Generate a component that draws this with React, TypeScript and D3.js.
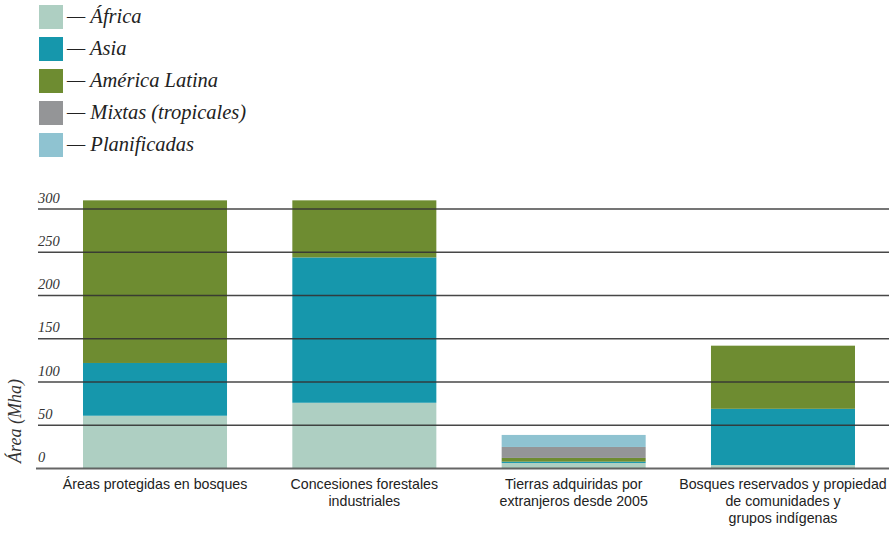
import React from "react";
import * as d3 from "d3";

const categories = [
  ["Áreas protegidas en bosques"],
  ["Concesiones forestales", "industriales"],
  ["Tierras adquiridas por", "extranjeros desde 2005"],
  ["Bosques reservados y propiedad", "de comunidades y", "grupos indígenas"],
];
const seriesNames = ["África", "Asia", "América Latina", "Mixtas (tropicales)", "Planificadas"];
const africa = [61, 76, 6.4, 4];
const asia = [61, 168, 1.5, 65];
const americaLatina = [188, 66, 4.3, 73];
const mixtas = [0, 0, 12.7, 0];
const planificadas = [0, 0, 13.9, 0];
const yTicks = [0, 50, 100, 150, 200, 250, 300];
const colors = ["#aecfc2", "#1697ac", "#6e8c31", "#949597", "#8fc3d1"];

const W = 889;
const H = 535;

export default function App() {
  const seriesValues = [africa, asia, americaLatina, mixtas, planificadas];
  const rows = categories.map((c, i) => {
    const r: any = { key: i };
    seriesNames.forEach((s, j) => (r[s] = seriesValues[j][i]));
    return r;
  });
  const stack = d3.stack<any>().keys(seriesNames)(rows);
  const x = d3
    .scaleBand<number>()
    .domain(categories.map((_, i) => i))
    .range([83, 855])
    .paddingInner(0.312)
    .paddingOuter(0);
  const y = d3.scaleLinear().domain([0, 300]).range([468.5, 209]);
  const serif = "'Liberation Serif', 'DejaVu Serif', serif";
  const narrow = "'Liberation Sans Narrow', 'Liberation Sans', Arial, sans-serif";

  return (
    <svg
      width={W}
      height={H}
      style={{ position: "absolute", left: 0, top: 0, background: "#fff" }}
    >
      {/* legend */}
      {seriesNames.map((s, i) => (
        <g key={s} transform={`translate(39, ${5 + i * 32})`}>
          <rect width={24} height={24} fill={colors[i]} />
          <text
            x={28}
            y={17.5}
            fontFamily={serif}
            fontStyle="italic"
            fontSize={20.5}
            fill="#222"
          >
            {"— " + s}
          </text>
        </g>
      ))}

      {/* bars */}
      {stack.map((layer, si) =>
        layer.map((d, ci) =>
          d[1] - d[0] > 0 ? (
            <rect
              key={`${si}-${ci}`}
              x={x(ci)}
              width={x.bandwidth()}
              y={y(d[1])}
              height={y(d[0]) - y(d[1])}
              fill={colors[si]}
            />
          ) : null
        )
      )}

      {/* gridlines */}
      {yTicks.map((t) => (
        <g key={t}>
          <line
            x1={t === 0 ? 36 : 38}
            x2={W}
            y1={y(t)}
            y2={y(t)}
            stroke={t === 0 ? "#555" : "#333"}
            strokeWidth={t === 0 ? 2 : 1.3}
            strokeOpacity={0.9}
          />
          <text
            x={38}
            y={y(t) - 6.5}
            fontFamily={serif}
            fontStyle="italic"
            fontSize={14.5}
            fill="#333"
          >
            {t}
          </text>
        </g>
      ))}

      {/* y title */}
      <text
        transform={`translate(21, 421) rotate(-90)`}
        textAnchor="middle"
        fontFamily={serif}
        fontStyle="italic"
        fontSize={18}
        fill="#333"
      >
        Área (Mha)
      </text>

      {/* category labels */}
      {categories.map((lines, i) => (
        <text
          key={i}
          x={(x(i) as number) + x.bandwidth() / 2}
          y={489}
          textAnchor="middle"
          fontFamily={narrow}
          fontSize={14.2}
          fill="#222"
        >
          {lines.map((l, k) => (
            <tspan key={k} x={(x(i) as number) + x.bandwidth() / 2} dy={k === 0 ? 0 : 17}>
              {l}
            </tspan>
          ))}
        </text>
      ))}
    </svg>
  );
}
